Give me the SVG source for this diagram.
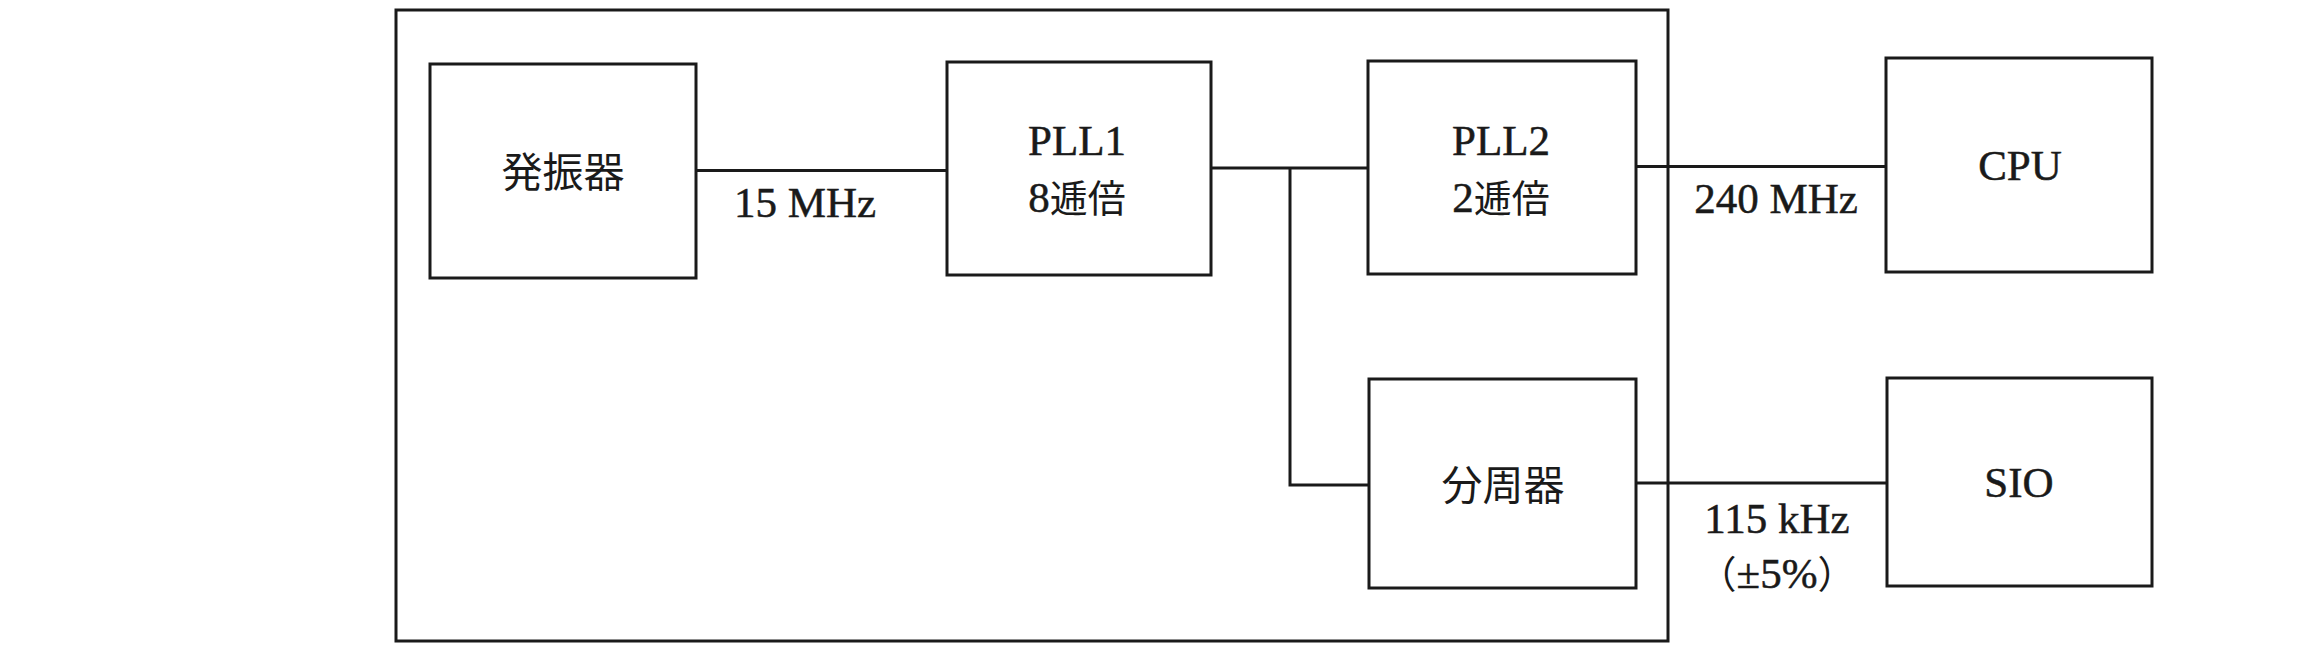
<svg xmlns="http://www.w3.org/2000/svg" width="2320" height="652" viewBox="0 0 2320 652">
<style>
.box{fill:none;stroke:#1a1a1a;stroke-width:3}
.ln{fill:none;stroke:#1a1a1a;stroke-width:3}
.lat{font-family:"Liberation Serif","Times New Roman",serif;font-size:43px;fill:#1a1a1a;stroke:#1a1a1a;stroke-width:0.5;text-anchor:middle}
.jp{font-family:"Noto Sans CJK JP","Noto Sans",sans-serif;font-size:41px;fill:#1a1a1a;text-anchor:middle}
.jpi{font-family:"Noto Sans CJK JP","Noto Sans",sans-serif;font-size:38px;stroke:none}
</style>
<rect width="2320" height="652" fill="#ffffff"/>
<g id="chip">
<rect class="box" x="396" y="10" width="1272" height="631"/>
</g>
<g id="connectors">
<line class="ln" x1="696" y1="170.5" x2="947" y2="170.5"/>
<line class="ln" x1="1211" y1="168" x2="1368" y2="168"/>
<polyline class="ln" points="1290,168 1290,485 1369,485"/>
<line class="ln" x1="1636" y1="166.5" x2="1886" y2="166.5"/>
<line class="ln" x1="1636" y1="483" x2="1887" y2="483"/>
</g>
<g id="osc">
<rect class="box" x="430" y="64" width="266" height="214"/>
<text class="jp" x="563" y="187">発振器</text>
</g>
<g id="pll1">
<rect class="box" x="947" y="62" width="264" height="213"/>
<text class="lat" x="1077" y="155">PLL1</text>
<text class="lat" x="1077" y="212">8<tspan class="jpi">逓倍</tspan></text>
</g>
<g id="pll2">
<rect class="box" x="1368" y="61" width="268" height="213"/>
<text class="lat" x="1501" y="155">PLL2</text>
<text class="lat" x="1501" y="212">2<tspan class="jpi">逓倍</tspan></text>
</g>
<g id="divider">
<rect class="box" x="1369" y="379" width="267" height="209"/>
<text class="jp" x="1503" y="500">分周器</text>
</g>
<g id="cpu">
<rect class="box" x="1886" y="58" width="266" height="214"/>
<text class="lat" x="2020" y="180">CPU</text>
</g>
<g id="sio">
<rect class="box" x="1887" y="378" width="265" height="208"/>
<text class="lat" x="2019" y="497">SIO</text>
</g>
<g id="labels">
<text class="lat" x="805" y="217">15 MHz</text>
<text class="lat" x="1776" y="213">240 MHz</text>
<text class="lat" x="1777" y="533">115 kHz</text>
<text class="lat" x="1777" y="588"><tspan class="jpi">（</tspan>±5%<tspan class="jpi">）</tspan></text>
</g>
</svg>
